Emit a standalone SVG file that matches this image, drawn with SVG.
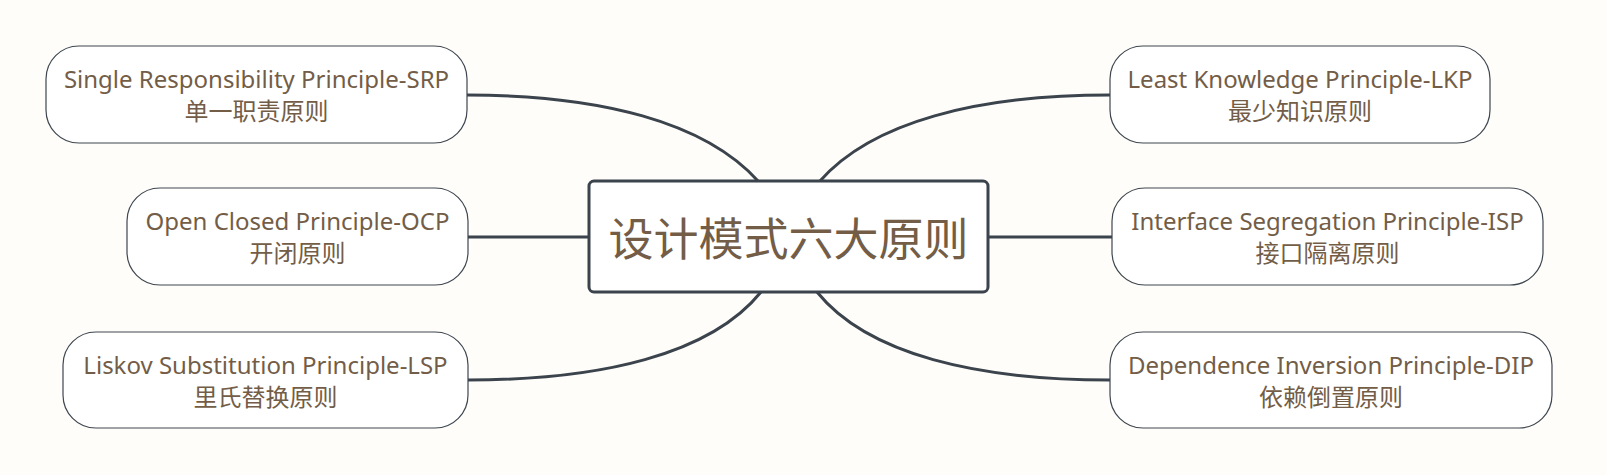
<svg xmlns="http://www.w3.org/2000/svg" width="1607" height="475" viewBox="0 0 1607 475">
<style>
.bg{fill:#fffdf9}
.node rect{fill:#ffffff;stroke:#3e4750;stroke-width:1.2}
.t{font-family:"Noto Sans","Noto Sans CJK SC",sans-serif;fill:#735d47;text-anchor:middle}
.en{font-size:24px}
.zh{font-size:24px;font-family:"Noto Sans CJK SC","Noto Sans",sans-serif}
.conn path{fill:none;stroke:#3b434c;stroke-width:3}
#center rect{fill:#ffffff;stroke:#3b434c;stroke-width:3}
.big{font-size:45px;font-family:"Noto Sans CJK SC",sans-serif}
</style>
<rect class="bg" x="0" y="0" width="1607" height="475"/>
<g class="conn" id="connectors">
<path d="M467,95 C600,95 705,122 758,181"/>
<path d="M1110,95 C977,95 872,122 820,181"/>
<path d="M468,237 L589,237"/>
<path d="M988,237 L1112,237"/>
<path d="M468,380 C600,380 710,355 761,292"/>
<path d="M1110,380 C978,380 868,355 817,292"/>
</g>
<g id="center">
<rect x="589" y="181" width="399" height="111" rx="5"/>
<text class="t big" x="788.5" y="256">设计模式六大原则</text>
</g>
<g class="node" id="srp">
<rect x="46" y="46" width="421" height="97" rx="33"/>
<text class="t en" x="256.5" y="88">Single Responsibility Principle-SRP</text>
<text class="t zh" x="256.5" y="120">单一职责原则</text>
</g>
<g class="node" id="ocp">
<rect x="127" y="188" width="341" height="97" rx="33"/>
<text class="t en" x="297.5" y="230">Open Closed Principle-OCP</text>
<text class="t zh" x="297.5" y="262">开闭原则</text>
</g>
<g class="node" id="lsp">
<rect x="63" y="332" width="405" height="96" rx="33"/>
<text class="t en" x="265.5" y="374">Liskov Substitution Principle-LSP</text>
<text class="t zh" x="265.5" y="406">里氏替换原则</text>
</g>
<g class="node" id="lkp">
<rect x="1110" y="46" width="380" height="97" rx="33"/>
<text class="t en" x="1300" y="88">Least Knowledge Principle-LKP</text>
<text class="t zh" x="1300" y="120">最少知识原则</text>
</g>
<g class="node" id="isp">
<rect x="1112" y="188" width="431" height="97" rx="33"/>
<text class="t en" x="1327.5" y="230">Interface Segregation Principle-ISP</text>
<text class="t zh" x="1327.5" y="262">接口隔离原则</text>
</g>
<g class="node" id="dip">
<rect x="1110" y="332" width="442" height="96" rx="33"/>
<text class="t en" x="1331" y="374">Dependence Inversion Principle-DIP</text>
<text class="t zh" x="1331" y="406">依赖倒置原则</text>
</g>
</svg>
